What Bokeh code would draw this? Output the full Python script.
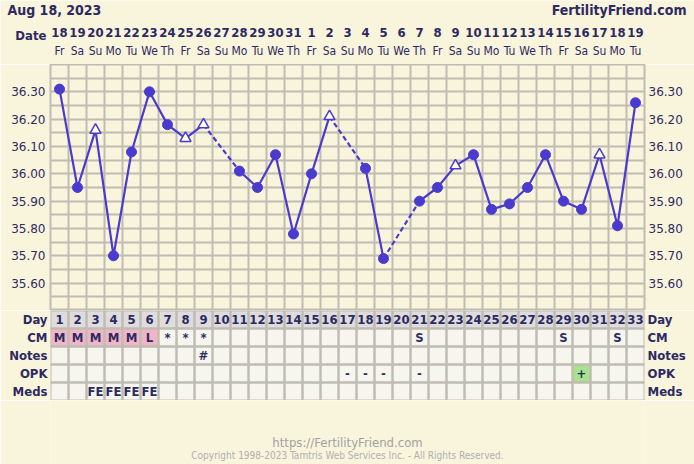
import numpy as np
from bokeh.plotting import figure
from bokeh.layouts import column, row
from bokeh.models import (Range1d, FactorRange, FixedTicker, LinearAxis, CategoricalAxis, Grid,
                          ColumnDataSource, PrintfTickFormatter)
from bokeh.core.properties import value
from bokeh.embed import file_html
from bokeh.resources import INLINE

# ---------------- data ----------------
chart_title = "Aug 18, 2023"
site_name = "FertilityFriend.com"
date_caption = "Date"
cycle_days = list(range(1, 34))
date_labels = ["18", "19", "20", "21", "22", "23", "24", "25", "26", "27", "28", "29", "30", "31",
               "1", "2", "3", "4", "5", "6", "7", "8", "9", "10", "11", "12", "13", "14", "15",
               "16", "17", "18", "19"]
weekday_labels = ["Fr", "Sa", "Su", "Mo", "Tu", "We", "Th"] * 4 + ["Fr", "Sa", "Su", "Mo", "Tu"]
temps = [36.31, 35.95, 36.16, 35.70, 36.08, 36.30, 36.18, 36.13, 36.18, None,
         36.01, 35.95, 36.07, 35.78, 36.00, 36.21, None, 36.02, 35.69, None,
         35.90, 35.95, 36.03, 36.07, 35.87, 35.89, 35.95, 36.07, 35.90, 35.87,
         36.07, 35.81, 36.26]
open_days = [3, 8, 9, 16, 23, 31]
temp_ticks = [35.60, 35.70, 35.80, 35.90, 36.00, 36.10, 36.20, 36.30]
row_names = ["Day", "CM", "Notes", "OPK", "Meds"]
period_days = [1, 2, 3, 4, 5, 6]
cm_marks = {1: "M", 2: "M", 3: "M", 4: "M", 5: "M", 6: "L", 7: "*", 8: "*", 9: "*",
            21: "S", 29: "S", 32: "S"}
notes_marks = {9: "#"}
opk_marks = {17: "-", 18: "-", 19: "-", 21: "-", 30: "+"}
meds_marks = {3: "FE", 4: "FE", 5: "FE", 6: "FE"}
footer_url = "https://FertilityFriend.com"
footer_copy = "Copyright 1998-2023 Tamtris Web Services Inc. - All Rights Reserved."

# ---------------- style ----------------
BG = "#f9f4dc"
INK = "#2d2a62"
GRIDC = "#c0bcb2"
LINE = "#4a3bcf"
CELL_BG = "#f7f6ee"
DAY_BG = "#dedcdc"
PINK = "#f2b5c8"
GREEN = "#a6e38c"
CONDN = "DejaVu Sans Condensed"
COND = value(CONDN)

W = 694
CELL = 18
PAD = 50
n = len(cycle_days)
xr = Range1d(0.5, n + 0.5)


def band(h, yr, x_range=xr, pad=PAD):
    p = figure(width=W, height=h, x_range=x_range, y_range=yr,
               toolbar_location=None, output_backend="svg",
               x_axis_type=None, y_axis_type=None,
               min_border_left=pad, min_border_right=pad, min_border_top=0, min_border_bottom=0,
               background_fill_color=BG, border_fill_color=BG, outline_line_color=None)
    return p


# ---------------- header (full-width frame) ----------------
hx0 = 0.5 - PAD / CELL
hdr = band(64, Range1d(64, 0), x_range=Range1d(hx0, hx0 + W / CELL), pad=0)
hsrc = ColumnDataSource(dict(x=cycle_days, d=date_labels, w=weekday_labels))
hdr.text(x="x", y=32, text="d", source=hsrc, text_font=COND, text_font_style="bold",
         text_font_size="13px", text_color=INK, text_align="center", text_baseline="middle")
hdr.text(x="x", y=50, text="w", source=hsrc, text_font=COND,
         text_font_size="12px", text_color=INK, text_align="center", text_baseline="middle")
hdr.text(x=[0.5], y=[35], text=[date_caption], x_offset=-4, text_font=COND, text_font_style="bold",
         text_font_size="13px", text_color=INK, text_align="right", text_baseline="middle")
hdr.text(x=[hx0], y=[9.5], text=[chart_title], x_offset=7, text_font=COND, text_font_style="bold",
         text_font_size="14px", text_color=INK, text_align="left", text_baseline="middle")
hdr.text(x=[hx0 + W / CELL], y=[9.5], text=[site_name], x_offset=-8, text_font=COND,
         text_font_style="bold", text_font_size="14px", text_color=INK, text_align="right",
         text_baseline="middle")

# ---------------- main chart ----------------
p = figure(width=W, height=246, x_range=xr, y_range=Range1d(35.5, 36.4),
           toolbar_location=None, output_backend="svg", x_axis_type=None,
           min_border_left=PAD, min_border_right=PAD, min_border_top=0, min_border_bottom=0,
           background_fill_color=BG, border_fill_color=BG,
           outline_line_color=GRIDC, outline_line_width=2)
fmt = PrintfTickFormatter(format="%.2f")
p.yaxis.ticker = FixedTicker(ticks=temp_ticks)
p.yaxis.formatter = fmt
rax = LinearAxis(ticker=FixedTicker(ticks=temp_ticks), formatter=fmt)
p.add_layout(rax, "right")
for ax in (p.yaxis[0], rax):
    ax.axis_line_color = None
    ax.major_tick_line_color = None
    ax.minor_tick_line_color = None
    ax.major_tick_out = 0
    ax.major_tick_in = 0
    ax.major_label_text_font = "DejaVu Sans"
    ax.major_label_text_font_size = "12px"
    ax.major_label_text_color = INK
p.yaxis[0].major_label_standoff = 5
rax.major_label_standoff = 4
p.ygrid.ticker = FixedTicker(ticks=[round(35.5 + 0.05 * i, 2) for i in range(19)])
p.ygrid.grid_line_color = GRIDC
p.ygrid.grid_line_width = 2
p.add_layout(Grid(dimension=0, ticker=FixedTicker(ticks=[0.5 + i for i in range(n + 1)]),
                  grid_line_color=GRIDC, grid_line_width=2))

t = np.array([np.nan if v is None else v for v in temps])
p.line(cycle_days, t, line_color=LINE, line_width=2.2)
valid = [i for i, v in enumerate(temps) if v is not None]
bx, by = [], []
for a, b in zip(valid[:-1], valid[1:]):
    if b - a > 1:
        bx.append([cycle_days[a], cycle_days[b]])
        by.append([temps[a], temps[b]])
p.multi_line(bx, by, line_color=LINE, line_width=2.2, line_dash="5 3")
fx = [d for d, v in zip(cycle_days, temps) if v is not None and d not in open_days]
fy = [v for d, v in zip(cycle_days, temps) if v is not None and d not in open_days]
ox = [d for d, v in zip(cycle_days, temps) if v is not None and d in open_days]
oy = [v for d, v in zip(cycle_days, temps) if v is not None and d in open_days]
p.scatter(fx, fy, marker="circle", size=10, fill_color=LINE, line_color=LINE)
p.scatter(ox, oy, marker="triangle", size=11, fill_color="#fffff6", line_color=LINE, line_width=1.5)

# ---------------- table ----------------
tbl = figure(width=W, height=90, x_range=xr, y_range=FactorRange(factors=row_names[::-1]),
             toolbar_location=None, output_backend="svg", x_axis_type=None,
             min_border_left=PAD, min_border_right=PAD, min_border_top=0, min_border_bottom=0,
             background_fill_color=BG, border_fill_color=BG, outline_line_color=None)
tbl.ygrid.visible = False
trax = CategoricalAxis()
tbl.add_layout(trax, "right")
for ax in (tbl.yaxis[0], trax):
    ax.axis_line_color = None
    ax.major_tick_line_color = None
    ax.minor_tick_line_color = None
    ax.major_tick_out = 0
    ax.major_tick_in = 0
    ax.major_label_text_font = CONDN
    ax.major_label_text_font_style = "bold"
    ax.major_label_text_font_size = "13px"
    ax.major_label_text_color = INK
tbl.yaxis[0].major_label_standoff = 3
trax.major_label_standoff = 3

cx, cy, cc = [], [], []
for r, name in enumerate(row_names):
    for d in cycle_days:
        cx.append(d)
        cy.append(name)
        if r == 0:
            cc.append(DAY_BG)
        elif r == 1 and d in period_days:
            cc.append(PINK)
        elif r == 3 and opk_marks.get(d) == "+":
            cc.append(GREEN)
        else:
            cc.append(CELL_BG)
tbl.rect(cx, cy, width=1, height=1, fill_color=cc, line_color=None)
tbl.rect(cx, cy, width=1, height=1, fill_color=None, line_color=GRIDC, line_width=2)

tx, ty, tt = [], [], []
for d in cycle_days:
    tx.append(d); ty.append(row_names[0]); tt.append(str(d))
for name, marks in zip(row_names[1:], (cm_marks, notes_marks, opk_marks, meds_marks)):
    for d, m in marks.items():
        tx.append(d); ty.append(name); tt.append(m)
tbl.text(tx, ty, text=tt, text_font=COND, text_font_style="bold", text_font_size="13px",
         text_color=INK, text_align="center", text_baseline="middle")

# ---------------- footer ----------------
ftr = band(64, Range1d(64, 0))
mid = (1 + n) / 2
ftr.text([mid], [41.5], text=[footer_url], text_font=COND, text_font_size="13px",
         text_color="#a2a2a2", text_align="center", text_baseline="middle")
ftr.text([mid], [54.5], text=[footer_copy], text_font=COND, text_font_size="10px",
         text_color="#b0b0b0", text_align="center", text_baseline="middle")

layout = column(row(hdr), p, tbl, ftr, spacing=0)
open("out.html", "w").write(file_html(layout, INLINE))
